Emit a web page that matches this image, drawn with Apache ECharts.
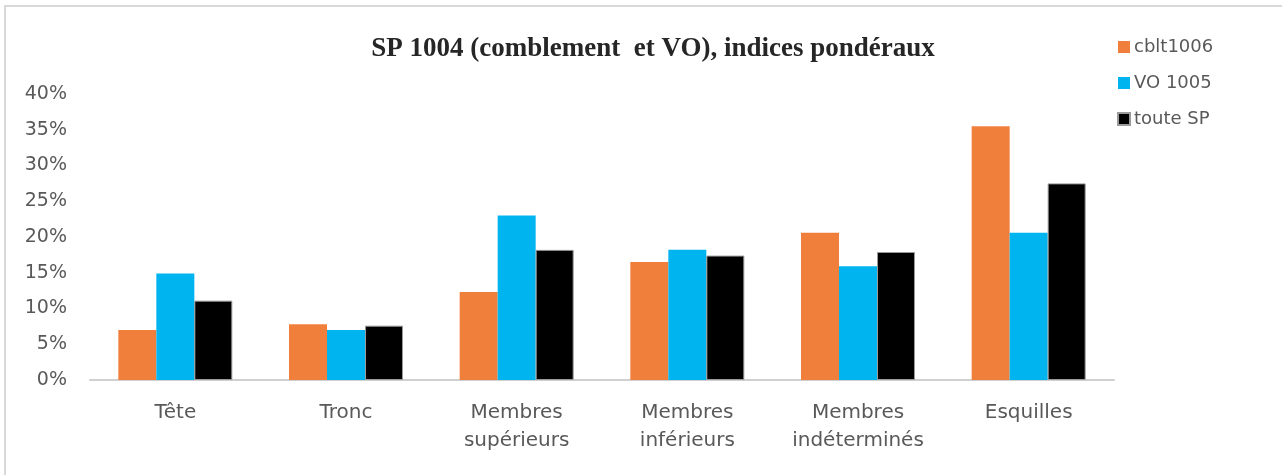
<!DOCTYPE html>
<html><head><meta charset="utf-8">
<script src="https://cdn.jsdelivr.net/npm/echarts@6/dist/echarts.min.js"></script>
<style>html,body{margin:0;padding:0;background:#fff}#c{width:1282px;height:475px}</style>
</head><body><div id="c"></div>
<script>
const categories = ['Tête', 'Tronc', 'Membres\nsupérieurs', 'Membres\ninférieurs', 'Membres\nindéterminés', 'Esquilles'];
const cblt1006 = [7.0, 7.8, 12.3, 16.5, 20.6, 35.5];
const vo1005 = [14.9, 7.0, 23.0, 18.2, 15.9, 20.6];
const touteSP = [11.1, 7.6, 18.2, 17.4, 17.9, 27.5];
const yTicks = [0, 5, 10, 15, 20, 25, 30, 35, 40];

const chart = echarts.init(document.getElementById('c'), null, {renderer: 'canvas'});
const sans = '"DejaVu Sans", "Open Sans", sans-serif';
chart.setOption({
  animation: false,
  backgroundColor: '#fff',
  title: {
    text: 'SP 1004 (comblement  et VO), indices pondéraux',
    left: 648, top: 31, textAlign: 'center',
    textStyle: {fontFamily: '"Liberation Serif", "DejaVu Serif", serif', fontWeight: 'bold', fontSize: 27, color: '#262626'}
  },
  legend: {
    orient: 'vertical', left: 1112, top: 33, itemGap: 18,
    itemWidth: 12, itemHeight: 12, icon: 'rect',
    textStyle: {fontFamily: sans, fontSize: 18, lineHeight: 18, color: '#595959', padding: [0,0,0,-1]},
    data: ['cblt1006', 'VO 1005', 'toute SP']
  },
  grid: {left: 90, right: 168, top: 94, bottom: 95},
  xAxis: {
    type: 'category', data: categories,
    axisLine: {lineStyle: {color: '#d0d0d0', width: 2}},
    axisTick: {show: false},
    axisLabel: {fontFamily: sans, fontSize: 20, color: '#595959', lineHeight: 28, margin: 19, interval: 0}
  },
  yAxis: {
    type: 'value', min: 0, max: 40, interval: 5,
    splitLine: {show: false}, axisLine: {show: false}, axisTick: {show: false},
    axisLabel: {fontFamily: sans, fontSize: 19, color: '#595959', margin: 23,
      formatter: v => yTicks.includes(v) ? v + '%' : ''}
  },
  series: [
    {name: 'cblt1006', type: 'bar', data: cblt1006, barWidth: 38, barGap: '0%', itemStyle: {color: '#F07F3C'}},
    {name: 'VO 1005', type: 'bar', data: vo1005, barWidth: 38, barGap: '0%', itemStyle: {color: '#00B4EF'}},
    {name: 'toute SP', type: 'bar', data: touteSP, barWidth: 38, barGap: '0%', itemStyle: {color: '#000000', borderColor: '#9a9a9a', borderWidth: 1}}
  ],
  graphic: [{type: 'rect', shape: {x: 5, y: 6, width: 1300, height: 500}, style: {fill: 'none', stroke: '#d9d9d9', lineWidth: 2}, silent: true}]
});
</script></body></html>
